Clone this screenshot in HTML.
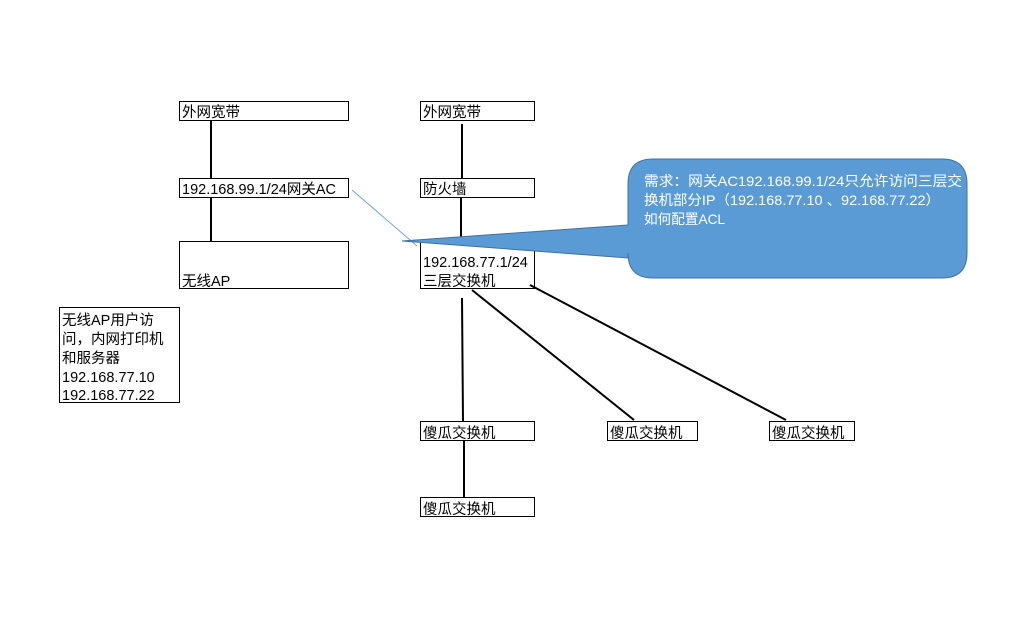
<!DOCTYPE html>
<html><head><meta charset="utf-8"><style>
html,body{margin:0;padding:0;background:#fff;}
svg text{font-family:"Liberation Sans","Noto Sans CJK SC",sans-serif;font-size:14.5px;fill:#000;}
</style></head><body>
<svg width="1032" height="627" xmlns="http://www.w3.org/2000/svg">
<g stroke="#000" stroke-width="1" fill="#fff">
<rect x="179.5" y="101.5" width="169" height="19"/>
<rect x="179.5" y="178.5" width="169" height="19"/>
<rect x="179.5" y="241.5" width="169" height="47"/>
<rect x="420.5" y="101.5" width="114" height="19"/>
<rect x="420.5" y="178.5" width="114" height="19"/>
<rect x="420.5" y="241.5" width="114" height="47"/>
<rect x="420.5" y="421.5" width="114" height="19"/>
<rect x="607.5" y="421.5" width="90" height="19"/>
<rect x="769.5" y="421.5" width="85" height="19"/>
<rect x="420.5" y="497.5" width="114" height="19"/>
<rect x="59.5" y="307.5" width="120" height="95"/>
</g>
<g stroke="#000" stroke-width="2">
<line x1="211" y1="121" x2="211" y2="178"/>
<line x1="211" y1="198" x2="211" y2="241"/>
<line x1="462" y1="124" x2="462" y2="178"/>
<line x1="461" y1="198" x2="461" y2="238"/>
<line x1="462" y1="298" x2="463" y2="421"/>
<line x1="472" y1="290" x2="634" y2="420"/>
<line x1="530" y1="285" x2="786" y2="420"/>
<line x1="464" y1="441" x2="464" y2="497"/>
</g>
<line x1="352" y1="190" x2="417" y2="246" stroke="#6fa3d6" stroke-width="1"/>
<path d="M653,159 H942 Q967,159 967,184 V253 Q967,278 942,278 H653 Q628,278 628,253 V258 L402,241 L628,225 V184 Q628,159 653,159 Z" fill="#5b9bd5" stroke="#41719c" stroke-width="1"/>
<text x="182" y="117">外网宽带</text>
<text x="182" y="194">192.168.99.1/24网关AC</text>
<text x="182" y="286">无线AP</text>
<text x="423" y="117">外网宽带</text>
<text x="423" y="194">防火墙</text>
<text x="423" y="267">192.168.77.1/24</text>
<text x="423" y="286">三层交换机</text>
<text x="423" y="438">傻瓜交换机</text>
<text x="610" y="438">傻瓜交换机</text>
<text x="772" y="438">傻瓜交换机</text>
<text x="423" y="514">傻瓜交换机</text>
<text x="62" y="325">无线AP用户访</text>
<text x="62" y="344">问，内网打印机</text>
<text x="62" y="363">和服务器</text>
<text x="62" y="382">192.168.77.10</text>
<text x="62" y="400">192.168.77.22</text>
<text x="644" y="186" textLength="318" lengthAdjust="spacingAndGlyphs" style="fill:#fff;font-size:14px">需求：网关AC192.168.99.1/24只允许访问三层交</text>
<text x="644" y="205" textLength="296" lengthAdjust="spacingAndGlyphs" style="fill:#fff;font-size:14px">换机部分IP（192.168.77.10 、92.168.77.22）</text>
<text x="644" y="224" textLength="81" lengthAdjust="spacingAndGlyphs" style="fill:#fff;font-size:14px">如何配置ACL</text>
</svg>
</body></html>
